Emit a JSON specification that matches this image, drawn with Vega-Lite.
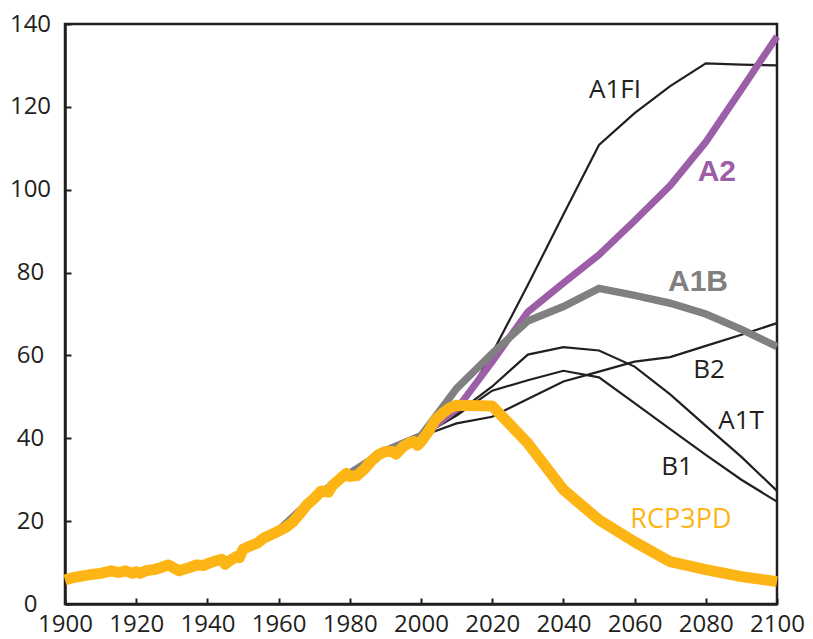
{
  "$schema": "https://vega.github.io/schema/vega-lite/v6.json",
  "width": 712,
  "height": 580,
  "autosize": "none",
  "padding": {"left": 65, "top": 24, "right": 36, "bottom": 35},
  "background": "white",
  "config": {
    "view": {"stroke": "#231f20", "strokeWidth": 2.5},
    "axis": {
      "grid": false,
      "title": null,
      "domainColor": "#231f20",
      "domainWidth": 2.5,
      "tickColor": "#231f20",
      "tickWidth": 2,
      "tickSize": -6,
      "labelFont": "Open Sans",
      "labelFontSize": 24,
      "labelColor": "#231f20",
      "labelFlush": false,
      "labelOverlap": false
    }
  },
  "datasets": {
    "lines": [
      {"s": "RCP3PD", "year": 1900, "v": 5.8},
      {"s": "RCP3PD", "year": 1902, "v": 6.3},
      {"s": "RCP3PD", "year": 1905, "v": 6.8},
      {"s": "RCP3PD", "year": 1908, "v": 7.2},
      {"s": "RCP3PD", "year": 1910, "v": 7.4},
      {"s": "RCP3PD", "year": 1913, "v": 8.0},
      {"s": "RCP3PD", "year": 1915, "v": 7.6},
      {"s": "RCP3PD", "year": 1917, "v": 8.0},
      {"s": "RCP3PD", "year": 1919, "v": 7.4},
      {"s": "RCP3PD", "year": 1920, "v": 7.8},
      {"s": "RCP3PD", "year": 1921, "v": 7.4},
      {"s": "RCP3PD", "year": 1923, "v": 8.1},
      {"s": "RCP3PD", "year": 1925, "v": 8.3},
      {"s": "RCP3PD", "year": 1927, "v": 8.8},
      {"s": "RCP3PD", "year": 1929, "v": 9.4},
      {"s": "RCP3PD", "year": 1930, "v": 9.0},
      {"s": "RCP3PD", "year": 1932, "v": 8.0},
      {"s": "RCP3PD", "year": 1935, "v": 8.8},
      {"s": "RCP3PD", "year": 1937, "v": 9.4},
      {"s": "RCP3PD", "year": 1939, "v": 9.3},
      {"s": "RCP3PD", "year": 1940, "v": 9.7},
      {"s": "RCP3PD", "year": 1942, "v": 10.3},
      {"s": "RCP3PD", "year": 1944, "v": 10.8},
      {"s": "RCP3PD", "year": 1945, "v": 9.6},
      {"s": "RCP3PD", "year": 1946, "v": 10.3},
      {"s": "RCP3PD", "year": 1948, "v": 11.4},
      {"s": "RCP3PD", "year": 1949, "v": 11.2},
      {"s": "RCP3PD", "year": 1950, "v": 13.2},
      {"s": "RCP3PD", "year": 1952, "v": 14.0},
      {"s": "RCP3PD", "year": 1954, "v": 14.7},
      {"s": "RCP3PD", "year": 1956, "v": 16.0},
      {"s": "RCP3PD", "year": 1958, "v": 16.8},
      {"s": "RCP3PD", "year": 1960, "v": 17.6},
      {"s": "RCP3PD", "year": 1962, "v": 18.5},
      {"s": "RCP3PD", "year": 1964, "v": 19.8},
      {"s": "RCP3PD", "year": 1966, "v": 21.8},
      {"s": "RCP3PD", "year": 1968, "v": 24.0},
      {"s": "RCP3PD", "year": 1970, "v": 25.5},
      {"s": "RCP3PD", "year": 1972, "v": 27.3},
      {"s": "RCP3PD", "year": 1974, "v": 27.0},
      {"s": "RCP3PD", "year": 1975, "v": 28.5},
      {"s": "RCP3PD", "year": 1977, "v": 30.0},
      {"s": "RCP3PD", "year": 1979, "v": 31.5},
      {"s": "RCP3PD", "year": 1980, "v": 30.8},
      {"s": "RCP3PD", "year": 1982, "v": 31.0},
      {"s": "RCP3PD", "year": 1984, "v": 32.5},
      {"s": "RCP3PD", "year": 1986, "v": 34.5},
      {"s": "RCP3PD", "year": 1988, "v": 36.0},
      {"s": "RCP3PD", "year": 1990, "v": 36.8},
      {"s": "RCP3PD", "year": 1992, "v": 36.8},
      {"s": "RCP3PD", "year": 1993, "v": 36.2},
      {"s": "RCP3PD", "year": 1995, "v": 38.0},
      {"s": "RCP3PD", "year": 1997, "v": 39.0},
      {"s": "RCP3PD", "year": 1998, "v": 39.2},
      {"s": "RCP3PD", "year": 1999, "v": 38.3},
      {"s": "RCP3PD", "year": 2000, "v": 39.2},
      {"s": "RCP3PD", "year": 2002, "v": 41.5},
      {"s": "RCP3PD", "year": 2004, "v": 44.4},
      {"s": "RCP3PD", "year": 2006, "v": 46.0},
      {"s": "RCP3PD", "year": 2008, "v": 47.3},
      {"s": "RCP3PD", "year": 2010, "v": 48.0},
      {"s": "RCP3PD", "year": 2020, "v": 47.8},
      {"s": "RCP3PD", "year": 2030, "v": 38.8},
      {"s": "RCP3PD", "year": 2040, "v": 27.6},
      {"s": "RCP3PD", "year": 2050, "v": 20.3},
      {"s": "RCP3PD", "year": 2060, "v": 15.0},
      {"s": "RCP3PD", "year": 2070, "v": 10.2},
      {"s": "RCP3PD", "year": 2080, "v": 8.3},
      {"s": "RCP3PD", "year": 2090, "v": 6.6},
      {"s": "RCP3PD", "year": 2100, "v": 5.4},

      {"s": "A1B", "year": 1960, "v": 17.8},
      {"s": "A1B", "year": 1970, "v": 25.8},
      {"s": "A1B", "year": 1980, "v": 31.6},
      {"s": "A1B", "year": 1990, "v": 37.0},
      {"s": "A1B", "year": 2000, "v": 40.6},
      {"s": "A1B", "year": 2010, "v": 52.0},
      {"s": "A1B", "year": 2020, "v": 60.5},
      {"s": "A1B", "year": 2030, "v": 68.3},
      {"s": "A1B", "year": 2040, "v": 71.8},
      {"s": "A1B", "year": 2050, "v": 76.2},
      {"s": "A1B", "year": 2060, "v": 74.5},
      {"s": "A1B", "year": 2070, "v": 72.6},
      {"s": "A1B", "year": 2080, "v": 70.0},
      {"s": "A1B", "year": 2090, "v": 66.3},
      {"s": "A1B", "year": 2100, "v": 62.1},

      {"s": "A2", "year": 2000, "v": 40.5},
      {"s": "A2", "year": 2010, "v": 47.0},
      {"s": "A2", "year": 2020, "v": 58.5},
      {"s": "A2", "year": 2030, "v": 70.5},
      {"s": "A2", "year": 2040, "v": 77.5},
      {"s": "A2", "year": 2050, "v": 84.3},
      {"s": "A2", "year": 2060, "v": 92.5},
      {"s": "A2", "year": 2070, "v": 101.0},
      {"s": "A2", "year": 2080, "v": 111.5},
      {"s": "A2", "year": 2090, "v": 124.2},
      {"s": "A2", "year": 2100, "v": 137.0},

      {"s": "A1FI", "year": 2000, "v": 40.5},
      {"s": "A1FI", "year": 2010, "v": 46.0},
      {"s": "A1FI", "year": 2020, "v": 60.5},
      {"s": "A1FI", "year": 2030, "v": 77.0},
      {"s": "A1FI", "year": 2040, "v": 94.0},
      {"s": "A1FI", "year": 2050, "v": 110.8},
      {"s": "A1FI", "year": 2060, "v": 118.5},
      {"s": "A1FI", "year": 2070, "v": 125.0},
      {"s": "A1FI", "year": 2080, "v": 130.5},
      {"s": "A1FI", "year": 2090, "v": 130.2},
      {"s": "A1FI", "year": 2100, "v": 130.0},

      {"s": "B2", "year": 2000, "v": 40.5},
      {"s": "B2", "year": 2010, "v": 43.6},
      {"s": "B2", "year": 2020, "v": 45.2},
      {"s": "B2", "year": 2030, "v": 49.5},
      {"s": "B2", "year": 2040, "v": 53.7},
      {"s": "B2", "year": 2050, "v": 56.1},
      {"s": "B2", "year": 2060, "v": 58.5},
      {"s": "B2", "year": 2070, "v": 59.6},
      {"s": "B2", "year": 2080, "v": 62.3},
      {"s": "B2", "year": 2090, "v": 65.0},
      {"s": "B2", "year": 2100, "v": 67.8},

      {"s": "A1T", "year": 2000, "v": 40.5},
      {"s": "A1T", "year": 2010, "v": 46.0},
      {"s": "A1T", "year": 2020, "v": 52.5},
      {"s": "A1T", "year": 2030, "v": 60.2},
      {"s": "A1T", "year": 2040, "v": 62.0},
      {"s": "A1T", "year": 2050, "v": 61.2},
      {"s": "A1T", "year": 2060, "v": 57.3},
      {"s": "A1T", "year": 2070, "v": 50.6},
      {"s": "A1T", "year": 2080, "v": 43.0},
      {"s": "A1T", "year": 2090, "v": 35.5},
      {"s": "A1T", "year": 2100, "v": 27.3},

      {"s": "B1", "year": 2000, "v": 40.5},
      {"s": "B1", "year": 2010, "v": 45.5},
      {"s": "B1", "year": 2020, "v": 51.5},
      {"s": "B1", "year": 2030, "v": 54.0},
      {"s": "B1", "year": 2040, "v": 56.3},
      {"s": "B1", "year": 2050, "v": 54.7},
      {"s": "B1", "year": 2060, "v": 48.5},
      {"s": "B1", "year": 2070, "v": 42.2},
      {"s": "B1", "year": 2080, "v": 36.0},
      {"s": "B1", "year": 2090, "v": 30.0},
      {"s": "B1", "year": 2100, "v": 24.7}
    ],
    "labels": [
      {"t": "A1FI", "year": 2054.5, "v": 124.1, "kind": "black"},
      {"t": "B2", "year": 2080.9, "v": 56.5, "kind": "black"},
      {"t": "A1T", "year": 2089.9, "v": 44.2, "kind": "black"},
      {"t": "B1", "year": 2071.9, "v": 33.1, "kind": "black"},
      {"t": "A2", "year": 2083.1, "v": 104.3, "kind": "purple"},
      {"t": "A1B", "year": 2077.8, "v": 77.7, "kind": "gray"},
      {"t": "RCP3PD", "year": 2073.0, "v": 20.3, "kind": "yellow"}
    ]
  },
  "encoding": {
    "x": {
      "field": "year", "type": "quantitative",
      "scale": {"domain": [1900, 2100], "nice": false, "zero": false},
      "axis": {"values": [1900, 1920, 1940, 1960, 1980, 2000, 2020, 2040, 2060, 2080, 2100], "format": "d", "labelPadding": 14}
    },
    "y": {
      "field": "v", "type": "quantitative",
      "scale": {"domain": [0, 140], "nice": false},
      "axis": {"values": [0, 20, 40, 60, 80, 100, 120, 140], "labelAlign": "center", "labelPadding": 41}
    }
  },
  "layer": [
    {
      "data": {"name": "lines"},
      "transform": [{"filter": "indexof(['A1FI','B2','A1T','B1'], datum.s) >= 0"}],
      "mark": {"type": "line", "color": "#231f20", "strokeWidth": 2.2, "strokeJoin": "miter"},
      "encoding": {"detail": {"field": "s"}}
    },
    {
      "data": {"name": "lines"},
      "transform": [{"filter": "datum.s === 'A2'"}],
      "mark": {"type": "line", "color": "#9c5fa7", "strokeWidth": 7, "strokeJoin": "miter"},
      "encoding": {}
    },
    {
      "data": {"name": "lines"},
      "transform": [{"filter": "datum.s === 'A1B'"}],
      "mark": {"type": "line", "color": "#808080", "strokeWidth": 7.5, "strokeJoin": "miter"},
      "encoding": {}
    },
    {
      "data": {"name": "lines"},
      "transform": [{"filter": "datum.s === 'RCP3PD'"}],
      "mark": {"type": "line", "color": "#fdb515", "strokeWidth": 11, "strokeJoin": "round"},
      "encoding": {}
    },
    {
      "data": {"name": "labels"},
      "transform": [{"filter": "datum.kind === 'black'"}],
      "mark": {"type": "text", "font": "Open Sans", "fontSize": 26, "color": "#231f20", "align": "center", "baseline": "middle"},
      "encoding": {"text": {"field": "t"}}
    },
    {
      "data": {"name": "labels"},
      "transform": [{"filter": "datum.kind === 'purple'"}],
      "mark": {"type": "text", "font": "Liberation Sans", "fontWeight": "bold", "fontSize": 30, "color": "#9c5fa7", "align": "center", "baseline": "middle"},
      "encoding": {"text": {"field": "t"}}
    },
    {
      "data": {"name": "labels"},
      "transform": [{"filter": "datum.kind === 'gray'"}],
      "mark": {"type": "text", "font": "Liberation Sans", "fontWeight": "bold", "fontSize": 30, "color": "#808080", "align": "center", "baseline": "middle"},
      "encoding": {"text": {"field": "t"}}
    },
    {
      "data": {"name": "labels"},
      "transform": [{"filter": "datum.kind === 'yellow'"}],
      "mark": {"type": "text", "font": "Open Sans", "fontSize": 27, "color": "#fdb515", "align": "center", "baseline": "middle"},
      "encoding": {"text": {"field": "t"}}
    }
  ]
}
